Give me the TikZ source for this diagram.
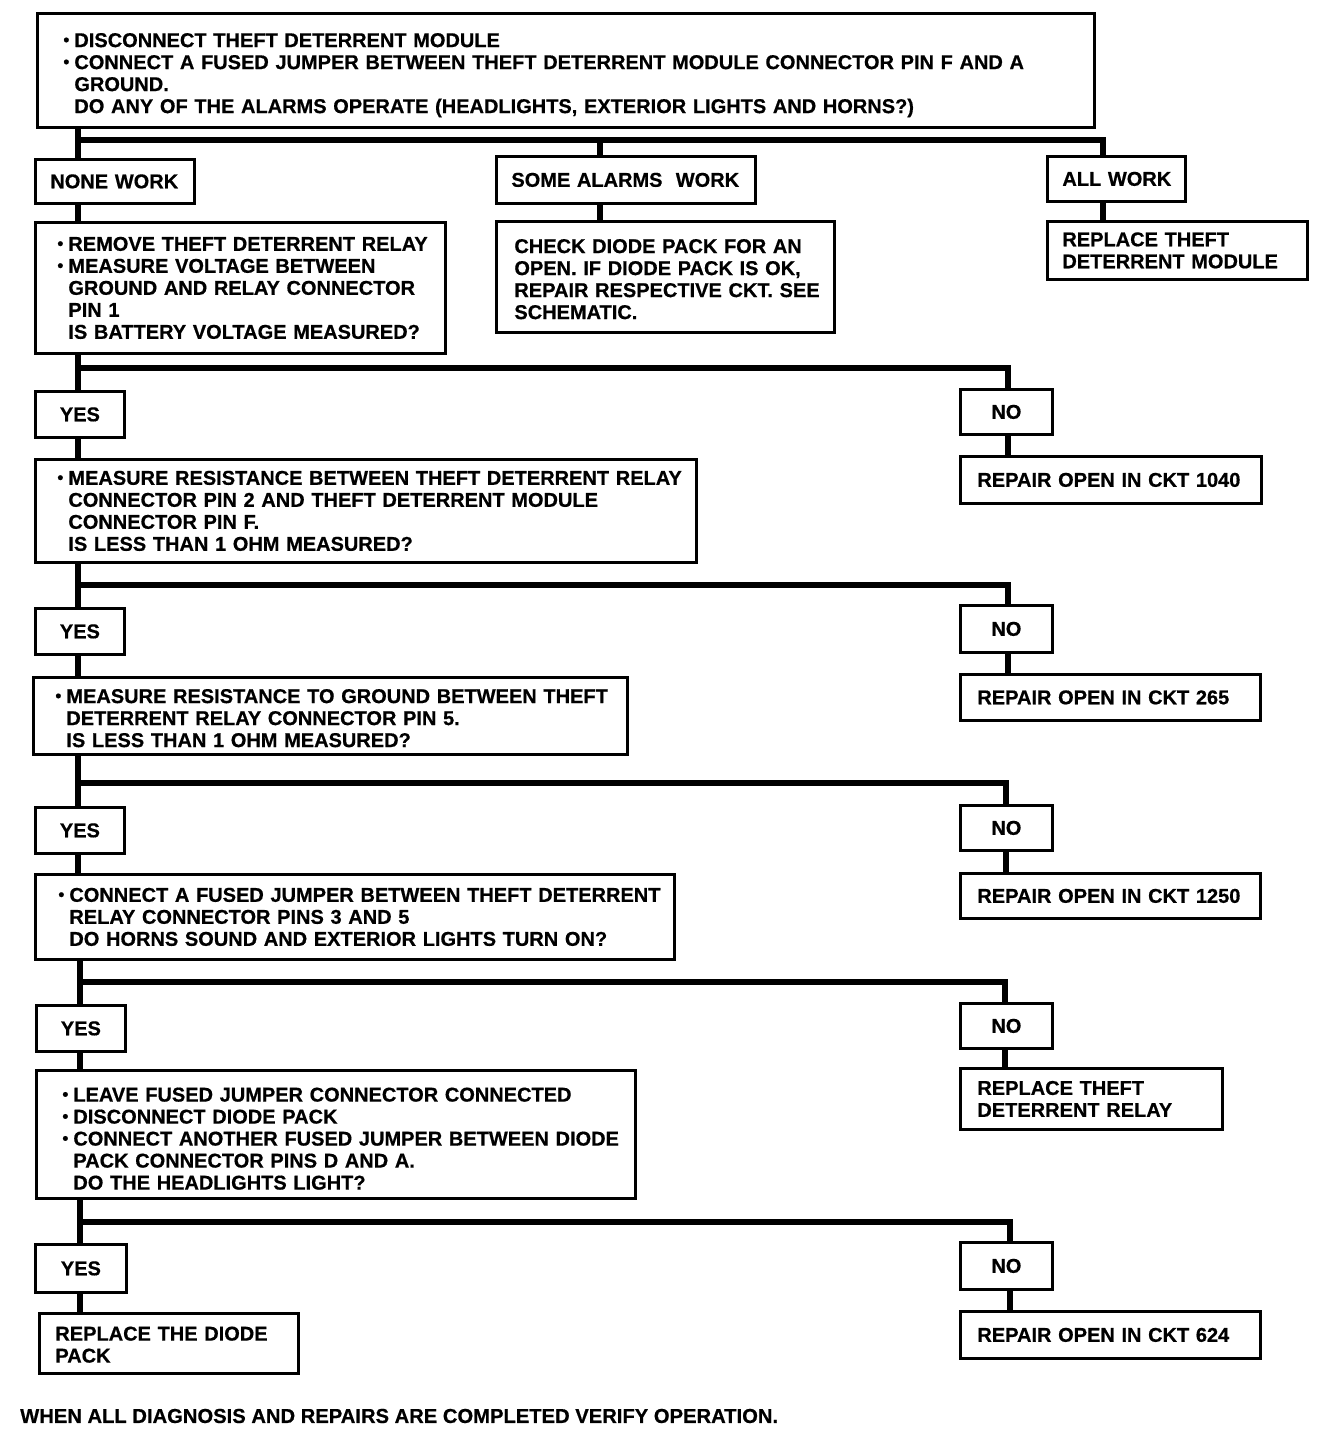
\documentclass[tikz,border=0pt]{standalone}
\usepackage{fontspec}
\setmainfont{Liberation Sans}[BoldFeatures={FakeBold=0.6}]
\newcommand\mybul{\makebox[11pt][l]{\raisebox{1.5pt}{\fontsize{17}{17}\selectfont\textbullet}}}
\newcommand\myind{\hspace*{11pt}}
\newcommand\mylift[1]{\rule{0pt}{#1pt}}
\newcommand\flbox[7]{\node[fbox,text width=#4pt,minimum height=#5pt] (#1) at (#2,#3) {\leftskip=#6pt\relax #7\par};}
\newcommand\ynbox[6]{\node[ybox,minimum width=#4pt,minimum height=#5pt] (#1) at (#2,#3) {#6};}
\tikzset{
  txt/.style={font=\fontsize{20}{22}\selectfont\bfseries},
  fbox/.style={txt,draw,line width=2.8pt,inner sep=0pt,anchor=north west,align=left},
  ybox/.style={txt,draw,line width=2.8pt,inner sep=0pt,anchor=north west,align=center},
  conn/.style={line width=5.5pt,line join=miter,line cap=butt}
}
\begin{document}
\begin{tikzpicture}[x=1pt,y=-1pt]
\useasboundingbox (0,0) rectangle (1344,1444);
% boxes
\flbox{top}{36}{12}{1057}{114}{26}{\mylift{23.5}\mybul DISCONNECT THEFT DETERRENT MODULE\\
\mybul CONNECT A FUSED JUMPER BETWEEN THEFT DETERRENT MODULE CONNECTOR PIN F AND A\\
\myind GROUND.\\
\myind DO ANY OF THE ALARMS OPERATE (HEADLIGHTS, EXTERIOR LIGHTS AND HORNS?)}
\flbox{none}{34}{158}{159}{44}{15}{NONE WORK}
\flbox{some}{495}{155}{259}{47}{15}{SOME ALARMS\ \ WORK}
\flbox{all}{1046}{155}{138}{45}{15}{ALL WORK}
\flbox{b2}{34}{221}{410}{131}{22}{\mybul REMOVE THEFT DETERRENT RELAY\\
\mybul MEASURE VOLTAGE BETWEEN\\
\myind GROUND AND RELAY CONNECTOR\\
\myind PIN 1\\
\myind IS BATTERY VOLTAGE MEASURED?}
\flbox{diode}{495}{220}{338}{111}{18}{\mylift{18.5}CHECK DIODE PACK FOR AN\\
OPEN. IF DIODE PACK IS OK,\\
REPAIR RESPECTIVE CKT. SEE\\
SCHEMATIC.}
\flbox{rtm}{1046}{220}{260}{58}{15}{REPLACE THEFT\\ DETERRENT MODULE}
\ynbox{yes1}{34}{390}{89}{46}{YES}
\ynbox{no1}{959}{388}{92}{45}{NO}
\flbox{r1040}{959}{455}{301}{47}{17}{REPAIR OPEN IN CKT 1040}
\flbox{b3}{34}{458}{661}{103}{22}{\mybul MEASURE RESISTANCE BETWEEN THEFT DETERRENT RELAY\\
\myind CONNECTOR PIN 2 AND THEFT DETERRENT MODULE\\
\myind CONNECTOR PIN F.\\
\myind IS LESS THAN 1 OHM MEASURED?}
\ynbox{yes2}{34}{607}{89}{46}{YES}
\ynbox{no2}{959}{604}{92}{47}{NO}
\flbox{r265}{959}{673}{300}{46}{17}{REPAIR OPEN IN CKT 265}
\flbox{b4}{32}{676}{594}{77}{22}{\mylift{18.5}\mybul MEASURE RESISTANCE TO GROUND BETWEEN THEFT\\
\myind DETERRENT RELAY CONNECTOR PIN 5.\\
\myind IS LESS THAN 1 OHM MEASURED?}
\ynbox{yes3}{34}{806}{89}{46}{YES}
\ynbox{no3}{959}{804}{92}{45}{NO}
\flbox{r1250}{959}{872}{300}{45}{17}{REPAIR OPEN IN CKT 1250}
\flbox{b5}{34}{873}{639}{85}{23}{\mybul CONNECT A FUSED JUMPER BETWEEN THEFT DETERRENT\\
\myind RELAY CONNECTOR PINS 3 AND 5\\
\myind DO HORNS SOUND AND EXTERIOR LIGHTS TURN ON?}
\ynbox{yes4}{35}{1004}{89}{46}{YES}
\ynbox{no4}{959}{1002}{92}{45}{NO}
\flbox{rtr}{959}{1067}{262}{61}{17}{REPLACE THEFT\\ DETERRENT RELAY}
\flbox{b6}{35}{1069}{599}{128}{26}{\mylift{22.5}\mybul LEAVE FUSED JUMPER CONNECTOR CONNECTED\\
\mybul DISCONNECT DIODE PACK\\
\mybul CONNECT ANOTHER FUSED JUMPER BETWEEN DIODE\\
\myind PACK CONNECTOR PINS D AND A.\\
\myind DO THE HEADLIGHTS LIGHT?}
\ynbox{yes5}{34}{1243}{91}{48}{YES}
\ynbox{no5}{959}{1241}{92}{47}{NO}
\flbox{rdp}{38}{1312}{259}{60}{16}{\mylift{16.5}REPLACE THE DIODE\\ PACK}
\flbox{r624}{959}{1310}{300}{47}{17}{REPAIR OPEN IN CKT 624}
\node[txt,anchor=west,inner sep=0pt,font=\fontsize{20.2}{22}\selectfont\bfseries] (foot) at (20,1416) {WHEN ALL DIAGNOSIS AND REPAIRS ARE COMPLETED VERIFY OPERATION.};
% junctions
\coordinate (j0) at (78,140); \coordinate (j0m) at (600,140); \coordinate (j0r) at (1103,140);
\coordinate (j1) at (78,368); \coordinate (j1r) at (1008,368);
\coordinate (j2) at (78,585); \coordinate (j2r) at (1008,585);
\coordinate (j3) at (78,783); \coordinate (j3r) at (1006,783);
\coordinate (j4) at (80,982); \coordinate (j4r) at (1005,982);
\coordinate (j5) at (80,1222); \coordinate (j5r) at (1010,1222);
% level 0
\draw[conn] (top.south -| j0) -- (none.north -| j0);
\draw[conn] (j0) -- (j0r) -- (all.north -| j0r);
\draw[conn] (j0m) -- (some.north -| j0m);
\draw[conn] (none.south -| j0) -- (b2.north -| j0);
\draw[conn] (some.south -| j0m) -- (diode.north -| j0m);
\draw[conn] (all.south -| j0r) -- (rtm.north -| j0r);
% level 1
\draw[conn] (b2.south -| j1) -- (yes1.north -| j1);
\draw[conn] (j1) -- (j1r) -- (no1.north -| j1r);
\draw[conn] (yes1.south -| j1) -- (b3.north -| j1);
\draw[conn] (no1.south -| j1r) -- (r1040.north -| j1r);
% level 2
\draw[conn] (b3.south -| j2) -- (yes2.north -| j2);
\draw[conn] (j2) -- (j2r) -- (no2.north -| j2r);
\draw[conn] (yes2.south -| j2) -- (b4.north -| j2);
\draw[conn] (no2.south -| j2r) -- (r265.north -| j2r);
% level 3
\draw[conn] (b4.south -| j3) -- (yes3.north -| j3);
\draw[conn] (j3) -- (j3r) -- (no3.north -| j3r);
\draw[conn] (yes3.south -| j3) -- (b5.north -| j3);
\draw[conn] (no3.south -| j3r) -- (r1250.north -| j3r);
% level 4
\draw[conn] (b5.south -| j4) -- (yes4.north -| j4);
\draw[conn] (j4) -- (j4r) -- (no4.north -| j4r);
\draw[conn] (yes4.south -| j4) -- (b6.north -| j4);
\draw[conn] (no4.south -| j4r) -- (rtr.north -| j4r);
% level 5
\draw[conn] (b6.south -| j5) -- (yes5.north -| j5);
\draw[conn] (j5) -- (j5r) -- (no5.north -| j5r);
\draw[conn] (yes5.south -| j5) -- (rdp.north -| j5);
\draw[conn] (no5.south -| j5r) -- (r624.north -| j5r);
\end{tikzpicture}
\end{document}
